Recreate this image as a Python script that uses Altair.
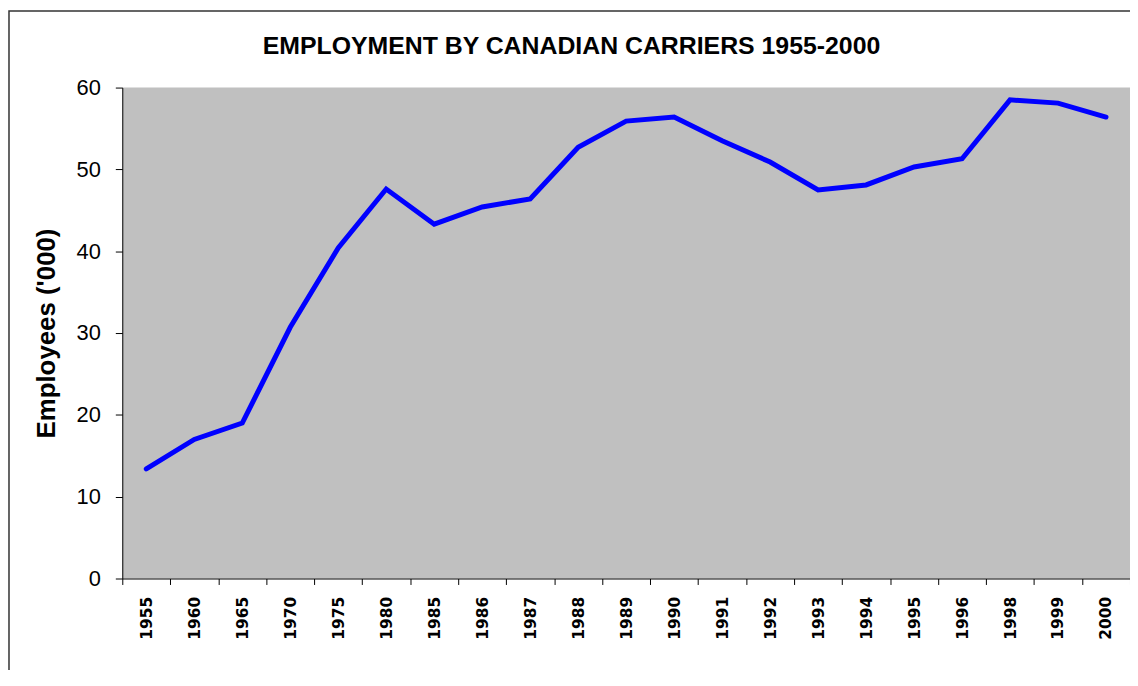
import altair as alt
import pandas as pd

years = ["1955", "1960", "1965", "1970", "1975", "1980", "1985", "1986", "1987",
         "1988", "1989", "1990", "1991", "1992", "1993", "1994", "1995", "1996",
         "1998", "1999", "2000"]
employees = [13.4, 17.0, 19.0, 30.7, 40.4, 47.6, 43.3, 45.4, 46.4,
             52.7, 55.9, 56.4, 53.5, 50.9, 47.5, 48.1, 50.3, 51.3,
             58.5, 58.1, 56.4]
y_ticks = [0, 10, 20, 30, 40, 50, 60]
title_text = "EMPLOYMENT BY CANADIAN CARRIERS 1955-2000"

df = pd.DataFrame({"year": years, "employees": employees})

FONT = "Liberation Sans"

line = alt.Chart(df).mark_line(color="#0000FF", strokeWidth=5, strokeCap="round",
                               strokeJoin="miter").encode(
    x=alt.X("year:O", sort=years, bandPosition=0.5,
            scale=alt.Scale(type="band", paddingInner=0, paddingOuter=0),
            axis=alt.Axis(title=None, labelAngle=270, labelAlign="right",
                          labelBaseline="middle", labelFont="DejaVu Sans",
                          labelFontWeight="bold", labelFontSize=15.5,
                          labelColor="black", labelPadding=12,
                          tickBand="extent", tickSize=6, tickColor="black",
                          domainColor="black", grid=False)),
    y=alt.Y("employees:Q",
            scale=alt.Scale(domain=[0, 60], nice=False, zero=True),
            axis=alt.Axis(title="Employees ('000)", values=y_ticks,
                          labelFont=FONT, labelFontSize=22, labelColor="black",
                          labelPadding=15, tickSize=7, tickColor="black",
                          domainColor="black", grid=False,
                          titleFont=FONT, titleFontSize=26, titleFontWeight="bold",
                          titleColor="black", titleAngle=270, titleAlign="center",
                          titleBaseline="middle", titleX=-76, titleY=247)),
)

frame = alt.Chart(alt.Data(values=[{}])).mark_rect(
    fill=None, stroke="#333333", strokeWidth=1.5, clip=False
).encode(
    x=alt.value(-114), x2=alt.value(1200),
    y=alt.value(-77), y2=alt.value(700),
)

title = alt.Chart(alt.Data(values=[{"t": title_text}])).mark_text(
    font=FONT, fontSize=25, fontWeight="bold", color="black",
    align="center", baseline="alphabetic", clip=False
).encode(
    text="t:N", x=alt.value(452), y=alt.value(-34),
)

chart = alt.layer(frame, line, title).properties(
    width=1014, height=494,
    padding={"left": 115, "top": 78, "right": 0, "bottom": 90},
    autosize=alt.AutoSizeParams(type="none"),
    background="white",
).configure_view(fill="#C0C0C0", stroke=None)

chart.save("out.html", embed_options={"renderer": "svg", "actions": False})
